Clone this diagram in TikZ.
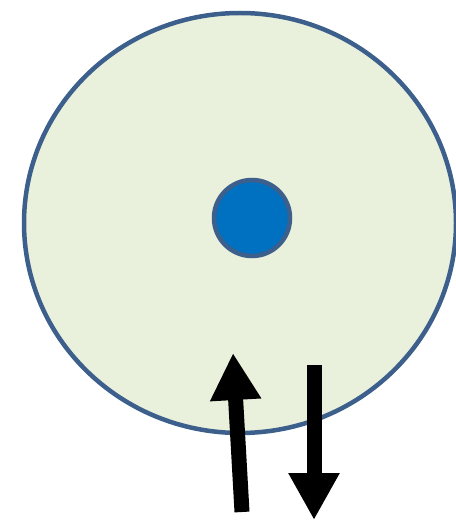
\documentclass[tikz,border=0pt]{standalone}
\usetikzlibrary{shapes.geometric,arrows.meta}

\definecolor{cellfill}{RGB}{233,240,220}
\definecolor{cellline}{RGB}{60,95,140}
\definecolor{nucfill}{RGB}{0,112,192}

\begin{document}
\begin{tikzpicture}[x=1pt, y=-1pt, >={Triangle[length=47pt, width=48pt]}]
  \useasboundingbox (0,0) rectangle (455,521);

  \node[draw=cellline, fill=cellfill, line width=4.5pt, ellipse, minimum width=432pt, minimum height=420pt, inner sep=0pt] (Cell) at (240,223) {};
  \node[draw=cellline, fill=nucfill, line width=4.5pt, circle, minimum size=76pt, inner sep=0pt] (Nucleus) at (252,218) {};

  \coordinate (InStart) at (242,512);
  \coordinate (InEnd) at (233,353);
  \coordinate (OutStart) at (314,365);
  \coordinate (OutEnd) at (314,520);

  \draw[->, line width=15pt] (InStart) -- (InEnd);
  \draw[->, line width=15pt] (OutStart) -- (OutEnd);
\end{tikzpicture}
\end{document}
